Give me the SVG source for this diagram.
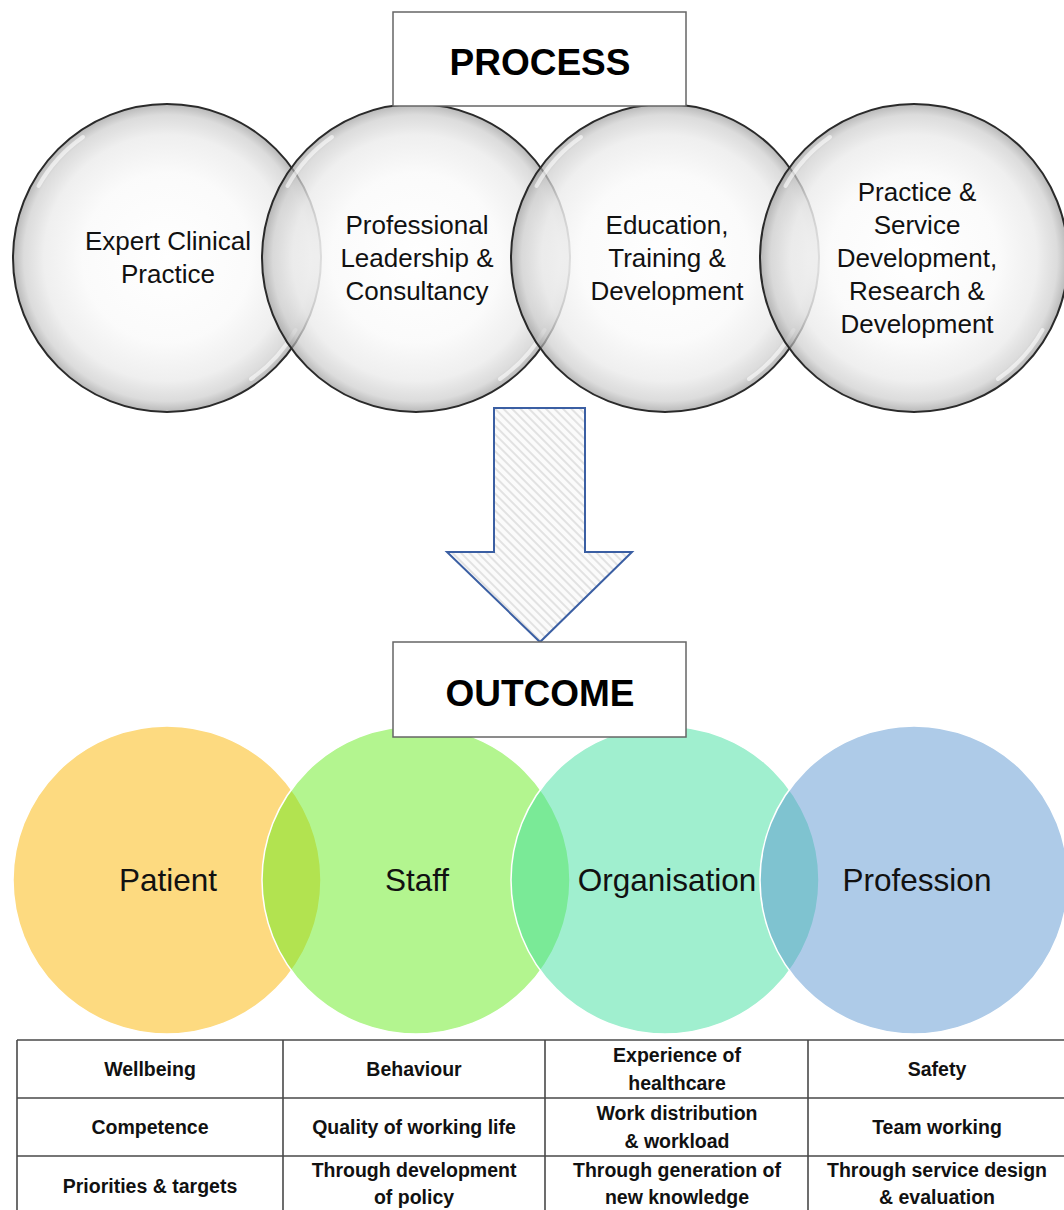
<svg xmlns="http://www.w3.org/2000/svg" width="1064" height="1210" viewBox="0 0 1064 1210">
<defs>
<radialGradient id="gloss" cx="0.5" cy="0.5" r="0.5">
<stop offset="0" stop-color="#ffffff" stop-opacity="0.95"/>
<stop offset="0.55" stop-color="#fafafa" stop-opacity="0.9"/>
<stop offset="0.8" stop-color="#ebebeb" stop-opacity="0.8"/>
<stop offset="0.93" stop-color="#cdcdcd" stop-opacity="0.7"/>
<stop offset="1" stop-color="#9a9a9a" stop-opacity="0.7"/>
</radialGradient>
<pattern id="hatch" width="6" height="6" patternUnits="userSpaceOnUse" patternTransform="rotate(-45)">
<rect width="6" height="6" fill="#fbfbfb"/>
<line x1="1" y1="0" x2="1" y2="6" stroke="#d8d8d8" stroke-width="1.4"/>
</pattern>
<style>
text{font-family:"Liberation Sans",Arial,sans-serif;fill:#111;text-anchor:middle}
.pc{fill:url(#gloss);stroke:#2a2a2a;stroke-width:2}
.hl{fill:none;stroke:#ffffff;stroke-width:4;stroke-linecap:round;opacity:0.6}
.pt{font-size:26px}
.hd{font-size:37px;font-weight:bold;fill:#000}
.hbox{fill:#ffffff;stroke:#666666;stroke-width:1.5}
.oc{fill-opacity:0.5;stroke:#ffffff;stroke-width:1.5}
.ot{font-size:31.5px}
.tb{font-size:19.5px;font-weight:bold}
.grid{stroke:#4a4a4a;stroke-width:1.6;fill:none}
</style>
</defs>
<rect width="1064" height="1210" fill="#ffffff"/>

<g id="process-circles">
<g id="p1">
<circle class="pc" cx="167" cy="258" r="154"/>
<path class="hl" d="M38.5,186.0 A147,147 0 0 1 83.0,137.0"/>
<path class="hl" d="M295.5,330.0 A147,147 0 0 1 251.0,379.0"/>
<text class="pt" x="168" y="250">Expert Clinical</text>
<text class="pt" x="168" y="283">Practice</text>
</g>
<g id="p2">
<circle class="pc" cx="416" cy="258" r="154"/>
<path class="hl" d="M287.5,186.0 A147,147 0 0 1 332.0,137.0"/>
<path class="hl" d="M544.5,330.0 A147,147 0 0 1 500.0,379.0"/>
<text class="pt" x="417" y="234">Professional</text>
<text class="pt" x="417" y="267">Leadership &amp;</text>
<text class="pt" x="417" y="300">Consultancy</text>
</g>
<g id="p3">
<circle class="pc" cx="665" cy="258" r="154"/>
<path class="hl" d="M536.5,186.0 A147,147 0 0 1 581.0,137.0"/>
<path class="hl" d="M793.5,330.0 A147,147 0 0 1 749.0,379.0"/>
<text class="pt" x="667" y="234">Education,</text>
<text class="pt" x="667" y="267">Training &amp;</text>
<text class="pt" x="667" y="300">Development</text>
</g>
<g id="p4">
<circle class="pc" cx="914" cy="258" r="154"/>
<path class="hl" d="M785.5,186.0 A147,147 0 0 1 830.0,137.0"/>
<path class="hl" d="M1042.5,330.0 A147,147 0 0 1 998.0,379.0"/>
<text class="pt" x="917" y="201">Practice &amp;</text>
<text class="pt" x="917" y="234">Service</text>
<text class="pt" x="917" y="267">Development,</text>
<text class="pt" x="917" y="300">Research &amp;</text>
<text class="pt" x="917" y="333">Development</text>
</g>
</g>

<g id="process-header">
<rect class="hbox" x="393" y="12" width="293" height="94"/>
<text class="hd" x="540" y="75">PROCESS</text>
</g>

<g id="outcome-circles">
<g id="o1">
<circle class="oc" cx="167" cy="880" r="154" fill="#fbb501"/>
<text class="ot" x="168" y="891">Patient</text>
</g>
<g id="o2">
<circle class="oc" cx="416" cy="880" r="154" fill="#67eb1f"/>
<text class="ot" x="417" y="891">Staff</text>
</g>
<g id="o3">
<circle class="oc" cx="665" cy="880" r="154" fill="#41df9f"/>
<text class="ot" x="667" y="891">Organisation</text>
</g>
<g id="o4">
<circle class="oc" cx="914" cy="880" r="154" fill="#5d97d1"/>
<text class="ot" x="917" y="891">Profession</text>
</g>
</g>

<g id="connectors">
<polygon points="494,408 585,408 585,552 632,552 540,642 447,552 494,552" fill="url(#hatch)" stroke="#3b5fa3" stroke-width="2" stroke-linejoin="miter"/>
</g>

<g id="outcome-header">
<rect class="hbox" x="393" y="642" width="293" height="95"/>
<text class="hd" x="540" y="706">OUTCOME</text>
</g>

<g id="table">
<path class="grid" d="M17,1040 H1064 M17,1098 H1064 M17,1156 H1064 M17,1040 V1210 M283,1040 V1210 M545,1040 V1210 M808,1040 V1210"/>
<text class="tb" x="150" y="1076">Wellbeing</text>
<text class="tb" x="414" y="1076">Behaviour</text>
<text class="tb" x="677" y="1062">Experience of</text>
<text class="tb" x="677" y="1090">healthcare</text>
<text class="tb" x="937" y="1076">Safety</text>
<text class="tb" x="150" y="1134">Competence</text>
<text class="tb" x="414" y="1134">Quality of working life</text>
<text class="tb" x="677" y="1120">Work distribution</text>
<text class="tb" x="677" y="1148">&amp; workload</text>
<text class="tb" x="937" y="1134">Team working</text>
<text class="tb" x="150" y="1193">Priorities &amp; targets</text>
<text class="tb" x="414" y="1177">Through development</text>
<text class="tb" x="414" y="1204">of policy</text>
<text class="tb" x="677" y="1177">Through generation of</text>
<text class="tb" x="677" y="1204">new knowledge</text>
<text class="tb" x="937" y="1177">Through service design</text>
<text class="tb" x="937" y="1204">&amp; evaluation</text>
</g>
</svg>
